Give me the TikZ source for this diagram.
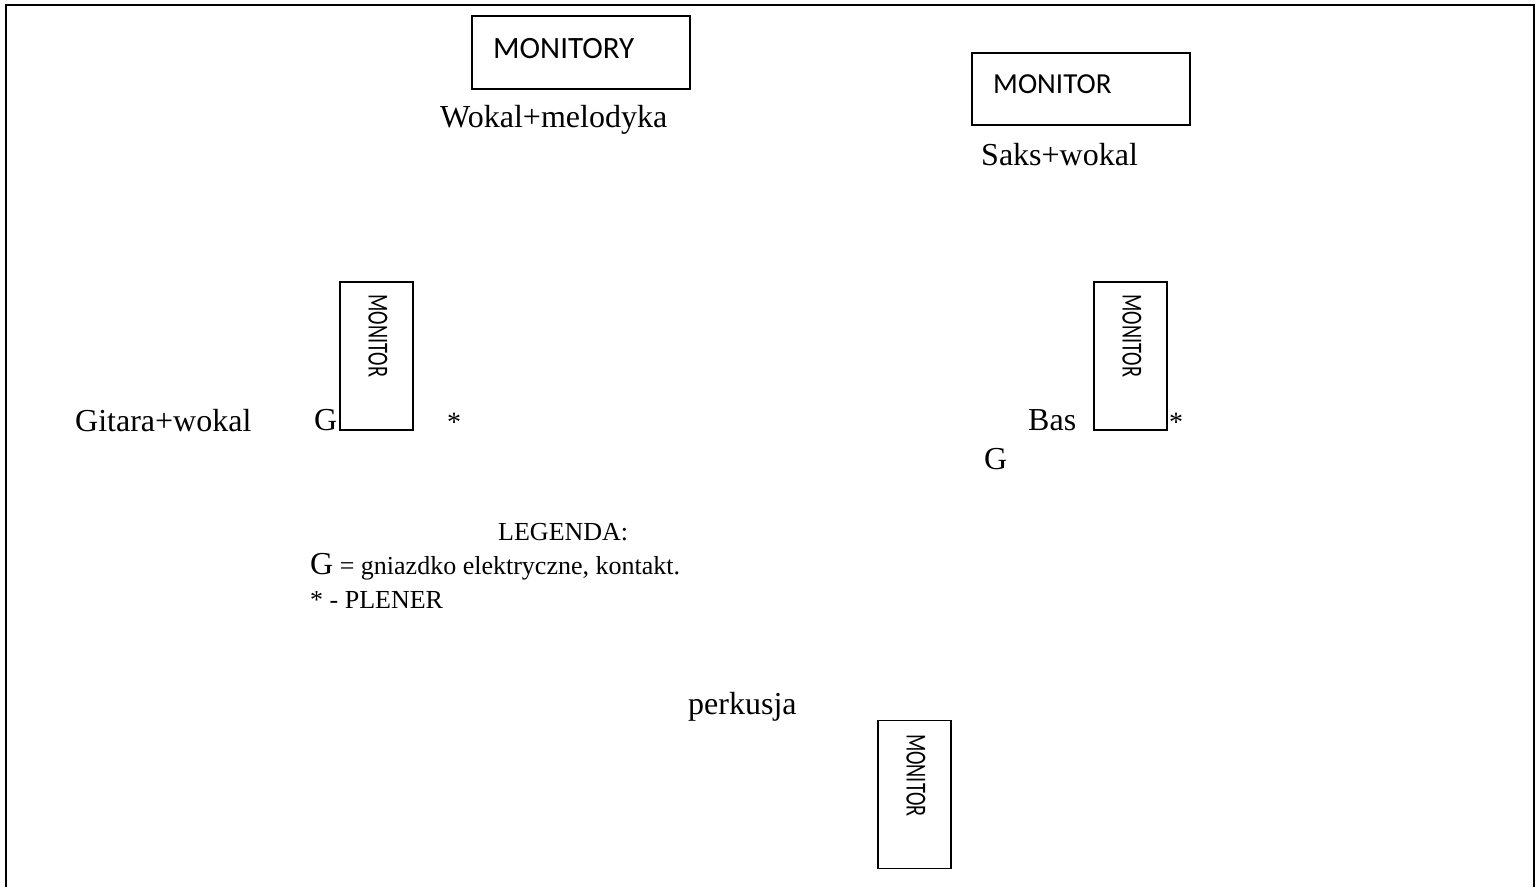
\documentclass[tikz,border=0pt]{standalone}
\usepackage{fontspec}
\usepackage{graphicx}
\setmainfont{Liberation Serif}
\newfontfamily\calib{Carlito}
\usetikzlibrary{positioning}

\tikzset{
  mon/.style={draw, line width=1.3pt, inner sep=0pt},
  hmon/.style={mon, minimum width=218pt, minimum height=73pt},
  vmon/.style={mon, minimum width=73pt, minimum height=148pt},
  hlab/.style={anchor=base west, inner sep=0pt, font=\calib\fontsize{31}{31}\selectfont},
  vlab/.style={rotate=-90, anchor=west, inner sep=0pt, font=\calib\fontsize{29}{29}\selectfont},
  lab/.style={anchor=base west, inner sep=0pt, font=\fontsize{32}{36}\selectfont},
  leg/.style={anchor=base west, inner sep=0pt, font=\fontsize{26}{30}\selectfont},
}

\begin{document}
\begin{tikzpicture}[x=1pt, y=-1pt]
    \useasboundingbox (0,0) rectangle (1538,887);
    % scena
    \draw[line width=2pt] (6,887) -- (6,5) -- (1534,5) -- (1534,887);

    % monitory
    \node[hmon] (monW) at (581,52.5) {};
    \node[hlab] (monWt) at (493,58) {MONITORY};
    \node[hmon, minimum height=72pt] (monS) at (1081,89) {};
    \node[hlab, font=\calib\fontsize{29}{29}\selectfont] (monSt) at (993,93) {MONITOR};
    \node[vmon] (monG) at (376.5,356) {};
    \node[vlab] (monGt) at ([xshift=1.5pt,yshift=-13pt]monG.north) {\scalebox{0.7}[1]{MONITOR}};
    \node[vmon] (monB) at (1130.5,356) {};
    \node[vlab] (monBt) at ([xshift=1.5pt,yshift=-13pt]monB.north) {\scalebox{0.7}[1]{MONITOR}};
    \node[vmon] (monP) at (914.5,794.5) {};
    \node[vlab] (monPt) at ([xshift=1.5pt,yshift=-14pt]monP.north) {\scalebox{0.7}[1]{MONITOR}};

    % muzycy
    \node[lab] (wokal) at (440,127) {Wokal+melodyka};
    \node[lab] (saks) at (981,165) {Saks+wokal};
    \node[lab] (gitara) at (75,431) {Gitara+wokal};
    \node[lab] (bas) at (1028,430) {Bas};
    \node[lab] (perk) at (688,714) {perkusja};

    % gniazdka i plener
    \node[lab] (gL) at (314,430) {G};
    \node[lab] (gR) at (984,469) {G};
    \node[lab, font=\fontsize{28}{30}\selectfont] (pL) at (447,431) {*};
    \node[lab, font=\fontsize{28}{30}\selectfont] (pR) at (1169,431) {*};

    % legenda
    \node[leg] (leg) at (498,540) {LEGENDA:};
    \node[leg] (legG) at (310,574) {{\fontsize{32}{32}\selectfont G} = gniazdko elektryczne, kontakt.};
    \node[leg] (legP) at (310,608) {* - PLENER};
\end{tikzpicture}
\end{document}
